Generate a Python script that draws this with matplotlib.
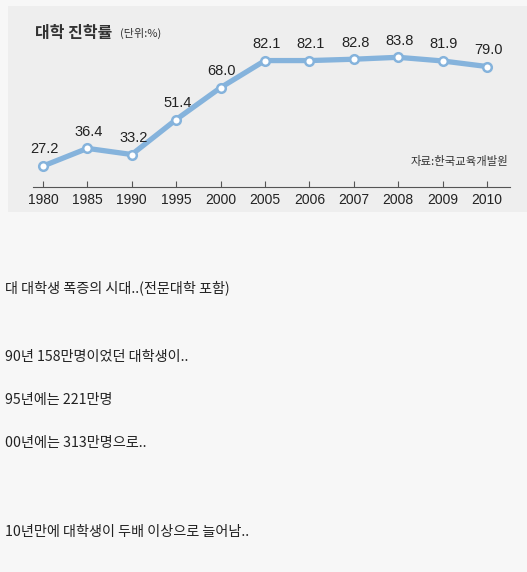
import matplotlib.pyplot as plt
from matplotlib.patches import Rectangle
from matplotlib import font_manager

years = ["1980", "1985", "1990", "1995", "2000", "2005",
         "2006", "2007", "2008", "2009", "2010"]
rates = [27.2, 36.4, 33.2, 51.4, 68.0, 82.1, 82.1, 82.8, 83.8, 81.9, 79.0]

title = "대학 진학률"
unit = "(단위:%)"
source = "자료:한국교육개발원"
body_lines = [
    ("대 대학생 폭증의 시대..(전문대학 포함)", 288),
    ("90년 158만명이었던 대학생이..", 357),
    ("95년에는 221만명", 400),
    ("00년에는 313만명으로..", 443),
    ("10년만에 대학생이 두배 이상으로 늘어남..", 532),
]

# narrow latin font if available
names = {f.name for f in font_manager.fontManager.ttflist}
narrow = "Liberation Sans Narrow" if "Liberation Sans Narrow" in names else "Liberation Sans"
kr = ["Noto Sans CJK KR", "DejaVu Sans"]

W, H = 527, 572
fig = plt.figure(figsize=(W / 100, H / 100), dpi=100)
fig.patch.set_facecolor("#f7f7f7")

# chart panel
fig.patches.append(Rectangle((8 / W, 1 - 212 / H), (W - 8) / W, (212 - 6) / H,
                             transform=fig.transFigure, facecolor="#eeeeee",
                             edgecolor="none", zorder=-5))

ax = fig.add_axes([33 / W, 1 - 187 / H, (510 - 33) / W, (187 - 6) / H])
ax.set_zorder(2)
ax.set_facecolor("none")
x = list(range(len(years)))
ax.plot(x, rates, color="#85b3dc", lw=3.8, solid_capstyle="round", zorder=2)
ax.plot(x, rates, "o", ms=6.2, mfc="white", mec="#85b3dc", mew=1.8, zorder=3)
for xi, v in zip(x, rates):
    ax.annotate(f"{v:.1f}", (xi, v), xytext=(1, 7), textcoords="offset points",
                ha="center", va="bottom", fontsize=10.5, family=narrow,
                color="#222222")

ax.set_xlim(-0.225, 10.52)
ax.set_ylim(16.3, 110.5)
for s in ["top", "right", "left"]:
    ax.spines[s].set_visible(False)
ax.spines["bottom"].set_color("#555555")
ax.spines["bottom"].set_linewidth(0.8)
ax.set_yticks([])
ax.set_xticks(x)
ax.set_xticklabels(years, family=narrow, fontsize=10, color="#222222")
ax.tick_params(axis="x", direction="in", length=4, width=0.8, color="#555555", pad=4)

fig.text(35 / W, 1 - 33 / H, title, family=kr, fontsize=11.5, fontweight="bold",
         color="#333333", va="center")
fig.text(120 / W, 1 - 33 / H, unit, family=kr, fontsize=8, color="#333333", va="center")
fig.text(508 / W, 1 - 161 / H, source, family=kr, fontsize=8.2, color="#333333",
         ha="right", va="center")

for txt, yy in body_lines:
    fig.text(5 / W, 1 - yy / H, txt, family=kr, fontsize=10.2, color="#222222", va="center")

fig.savefig("out.png", dpi=100, facecolor=fig.get_facecolor())
